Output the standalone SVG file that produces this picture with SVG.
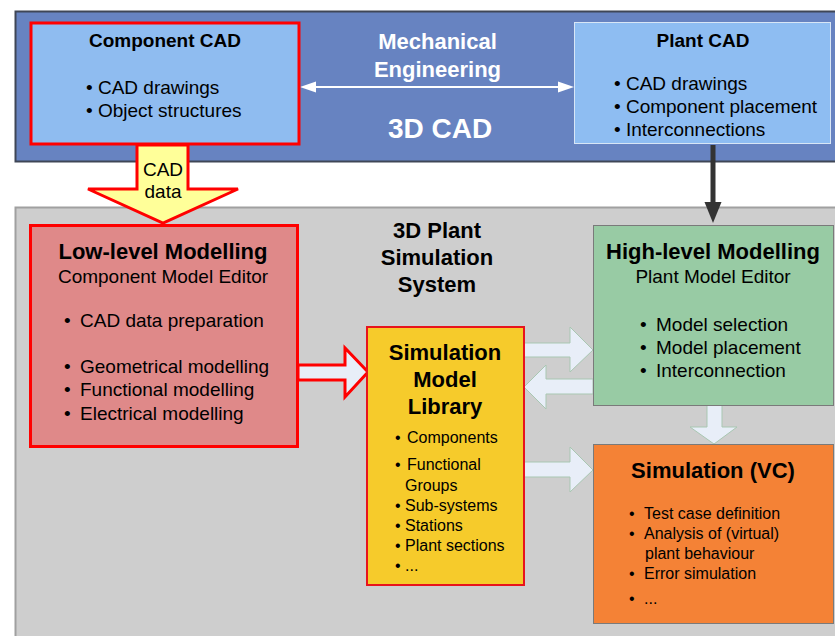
<svg xmlns="http://www.w3.org/2000/svg" width="835" height="636" viewBox="0 0 835 636">
<defs>
<style>
text{font-family:"Liberation Sans",Arial,sans-serif;fill:#000}
.b{font-weight:bold}
.w{fill:#fff}
.t19{font-size:19px}
.t16{font-size:16px}
.t22{font-size:22px}
.mid{text-anchor:middle}
.la{fill:#E8EEF8;stroke:#A9C7B2;stroke-width:1}
</style>
</defs>
<rect width="835" height="636" fill="#fff"/>

<g id="panel-3dcad">
<rect x="15.5" y="11.5" width="830" height="150" fill="#6783C1" stroke="#3F4656" stroke-width="2"/>
<text class="b w t22 mid" x="437.5" y="49">Mechanical</text>
<text class="b w t22 mid" x="437.5" y="77">Engineering</text>
<text class="b w mid" style="font-size:28px" x="440" y="138">3D CAD</text>
</g>

<g id="panel-sim">
<rect x="15.5" y="207.5" width="830" height="440" fill="#CECECE" stroke="#A0A0A0" stroke-width="2"/>
<text class="b t22 mid" x="437" y="238">3D Plant</text>
<text class="b t22 mid" x="437" y="265">Simulation</text>
<text class="b t22 mid" x="437" y="292">System</text>
</g>

<g id="connectors">
<line x1="310" y1="87" x2="564" y2="87" stroke="#fff" stroke-width="2"/>
<path d="M300,87 L316,81.5 L316,92.5 z M574,87 L558,81.5 L558,92.5 z" fill="#fff"/>
<line x1="713" y1="145" x2="713" y2="204" stroke="#333" stroke-width="5"/>
<path d="M704.5,202 L721.5,202 L713,223 z" fill="#333"/>
<polygon points="137,145 188,145 188,189 238,189 163,223 88,189 137,189" fill="#FFFF99" stroke="#F00" stroke-width="3" stroke-linejoin="miter"/>
<text class="t19 mid" x="163" y="176">CAD</text>
<text class="t19 mid" x="163" y="198">data</text>
<polygon points="298,365 345,365 345,348 368,372 345,397 345,380 298,380" fill="#E8EEF8" stroke="#F00" stroke-width="3"/>
<polygon class="la" points="524,343 570,343 570,327 593,350 570,372 570,357 524,357"/>
<polygon class="la" points="593,379 546,379 546,365 524,387 546,409 546,394 593,394"/>
<polygon class="la" points="524,462 570,462 570,447 593,470 570,492 570,477 524,477"/>
<polygon class="la" points="707,405 722,405 722,427 737,427 714,444 690,427 707,427"/>
</g>

<g id="component-cad">
<rect x="31" y="23" width="268" height="121" fill="#8FBCF0" stroke="#F00" stroke-width="3"/>
<text class="b t19 mid" x="165" y="47">Component CAD</text>
<text class="t19" x="86" y="94">• CAD drawings</text>
<text class="t19" x="86" y="117">• Object structures</text>
</g>

<g id="plant-cad">
<rect x="574.5" y="22.5" width="256" height="121" fill="#8EBDF2" stroke="#D8E6F6" stroke-width="1"/>
<text class="b t19 mid" x="703" y="47">Plant CAD</text>
<text class="t19" x="614" y="90">• CAD drawings</text>
<text class="t19" x="614" y="113">• Component placement</text>
<text class="t19" x="614" y="136">• Interconnections</text>
</g>

<g id="low-level">
<rect x="30.5" y="225.5" width="267" height="221" fill="#DF8989" stroke="#F00" stroke-width="3"/>
<text class="b t22 mid" x="163" y="259">Low-level Modelling</text>
<text class="t19 mid" x="163" y="283">Component Model Editor</text>
<text class="t19"><tspan x="64" y="327">•</tspan><tspan x="80" y="327">CAD data preparation</tspan></text>
<text class="t19"><tspan x="64" y="373">•</tspan><tspan x="80" y="373">Geometrical modelling</tspan></text>
<text class="t19"><tspan x="64" y="396">•</tspan><tspan x="80" y="396">Functional modelling</tspan></text>
<text class="t19"><tspan x="64" y="420">•</tspan><tspan x="80" y="420">Electrical modelling</tspan></text>
</g>

<g id="library">
<rect x="367" y="327" width="157" height="258" fill="#F6CB2B" stroke="#E8141C" stroke-width="2"/>
<text class="b t22 mid" x="445" y="360">Simulation</text>
<text class="b t22 mid" x="445" y="387">Model</text>
<text class="b t22 mid" x="445" y="414">Library</text>
<text class="t16"><tspan x="395" y="443">•</tspan><tspan x="407" y="443">Components</tspan></text>
<text class="t16"><tspan x="395" y="470">•</tspan><tspan x="407" y="470">Functional</tspan></text>
<text class="t16"><tspan x="405" y="491">Groups</tspan></text>
<text class="t16"><tspan x="395" y="511">•</tspan><tspan x="405" y="511">Sub-systems</tspan></text>
<text class="t16"><tspan x="395" y="531">•</tspan><tspan x="405" y="531">Stations</tspan></text>
<text class="t16"><tspan x="395" y="551">•</tspan><tspan x="405" y="551">Plant sections</tspan></text>
<text class="t16"><tspan x="395" y="571">•</tspan><tspan x="405" y="571">...</tspan></text>
</g>

<g id="high-level">
<rect x="593.5" y="225.5" width="240" height="180" fill="#98CBA4" stroke="#7A7A7A" stroke-width="1"/>
<text class="b t22 mid" x="713" y="259">High-level Modelling</text>
<text class="t19 mid" x="713" y="283">Plant Model Editor</text>
<text class="t19"><tspan x="640" y="331">•</tspan><tspan x="656" y="331">Model selection</tspan></text>
<text class="t19"><tspan x="640" y="354">•</tspan><tspan x="656" y="354">Model placement</tspan></text>
<text class="t19"><tspan x="640" y="377">•</tspan><tspan x="656" y="377">Interconnection</tspan></text>
</g>

<g id="simulation-vc">
<rect x="593.5" y="444.5" width="240" height="179" fill="#F48236" stroke="#7A7A7A" stroke-width="1"/>
<text class="b t22 mid" x="713" y="478">Simulation (VC)</text>
<text class="t16"><tspan x="629" y="519">•</tspan><tspan x="644" y="519">Test case definition</tspan></text>
<text class="t16"><tspan x="629" y="539">•</tspan><tspan x="644" y="539">Analysis of (virtual)</tspan></text>
<text class="t16"><tspan x="645" y="559">plant behaviour</tspan></text>
<text class="t16"><tspan x="629" y="579">•</tspan><tspan x="644" y="579">Error simulation</tspan></text>
<text class="t16"><tspan x="629" y="604">•</tspan><tspan x="644" y="604">...</tspan></text>
</g>
</svg>
